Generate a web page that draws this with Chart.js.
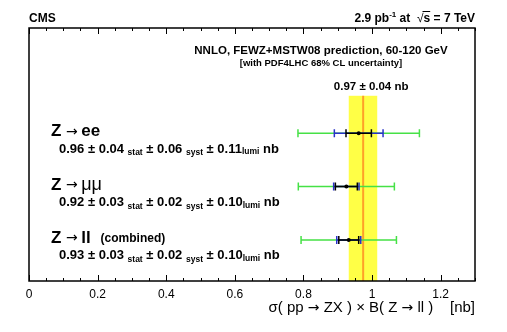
<!DOCTYPE html>
<html><head><meta charset="utf-8">
<script src="https://cdn.jsdelivr.net/npm/chart.js@4"></script>
<style>html,body{margin:0;padding:0;background:#fff}#wrap{width:507px;height:332px}</style>
</head><body><div id="wrap"><canvas id="c" width="507" height="332"></canvas></div>
<script>
// ---- data ----
const channelLabels = ['ee', 'μμ', 'll'];
const sigma   = [0.96, 0.92, 0.93];
const statErr = [0.04, 0.03, 0.03];
const systErr = [0.06, 0.02, 0.02];
const lumiErr = [0.11, 0.10, 0.10];
// positions
const centers     = [0.961, 0.925, 0.932];
const rowY        = [3, 2, 1];
const statBar     = [0.037, 0.032, 0.029];
const statSystBar = [0.071, 0.037, 0.035];
const totalBar    = [0.177, 0.140, 0.139];
const theoryValue = 0.974;
const theoryLo = 0.932, theoryHi = 1.015, theoryTop = 3.7;
const theoryLabel = '0.97 ± 0.04 nb';
const xTicks = [0, 0.2, 0.4, 0.6, 0.8, 1, 1.2];
const xTickLabels = ['0', '0.2', '0.4', '0.6', '0.8', '1', '1.2'];
const xMinorStep = 0.05;

const FF = '"Liberation Sans", Arial, Helvetica, sans-serif';
const FA = '"DejaVu Sans", sans-serif';
function f(size, bold) { return (bold ? 'bold ' : '') + size + 'px ' + FF; }
function fa(size) { return size + 'px ' + FA; }

function drawSegs(ctx, segs, x, y, align) {
  let total = 0;
  segs.forEach(s => { ctx.font = s.font; s.w = ctx.measureText(s.t).width; total += s.w; });
  let cx = align === 'right' ? x - total : (align === 'center' ? x - total / 2 : x);
  ctx.textAlign = 'left'; ctx.textBaseline = 'alphabetic'; ctx.fillStyle = '#000';
  segs.forEach(s => {
    ctx.font = s.font;
    ctx.fillText(s.t, cx, y + (s.dy || 0));
    if (s.over) {
      ctx.strokeStyle = '#000'; ctx.lineWidth = 1;
      ctx.beginPath(); ctx.moveTo(cx - 1, y - 10.5); ctx.lineTo(cx + s.w, y - 10.5); ctx.stroke();
    }
    cx += s.w;
  });
}

function hbar(ctx, x1, x2, y, color, lw, capH) {
  ctx.strokeStyle = color; ctx.lineWidth = lw;
  ctx.beginPath();
  ctx.moveTo(x1, y); ctx.lineTo(x2, y);
  ctx.moveTo(x1, y - capH / 2); ctx.lineTo(x1, y + capH / 2);
  ctx.moveTo(x2, y - capH / 2); ctx.lineTo(x2, y + capH / 2);
  ctx.stroke();
}

const cmsPlugin = {
  id: 'cms',
  beforeDatasetsDraw(chart) {
    const { ctx, chartArea: a, scales: { x, y } } = chart;
    ctx.save();
    // theory band
    const bx1 = x.getPixelForValue(theoryLo), bx2 = x.getPixelForValue(theoryHi);
    const by = y.getPixelForValue(theoryTop);
    ctx.fillStyle = 'rgb(255,255,70)';
    ctx.fillRect(bx1, by, bx2 - bx1, a.bottom - by);
    ctx.strokeStyle = 'rgb(255,160,40)'; ctx.lineWidth = 2;
    const lx = x.getPixelForValue(theoryValue);
    ctx.beginPath(); ctx.moveTo(lx, by); ctx.lineTo(lx, a.bottom); ctx.stroke();
    ctx.font = f(11.5, true); ctx.fillStyle = '#000'; ctx.textAlign = 'center';
    ctx.textBaseline = 'alphabetic';
    ctx.fillText(theoryLabel, lx + 8, by - 6);
    // error bars
    centers.forEach((c, i) => {
      const py = y.getPixelForValue(rowY[i]);
      hbar(ctx, x.getPixelForValue(c - totalBar[i]), x.getPixelForValue(c + totalBar[i]), py, 'rgb(70,225,70)', 1.5, 8);
      hbar(ctx, x.getPixelForValue(c - statSystBar[i]), x.getPixelForValue(c + statSystBar[i]), py, 'rgb(40,50,200)', 1.5, 8);
      hbar(ctx, x.getPixelForValue(c - statBar[i]), x.getPixelForValue(c + statBar[i]), py, '#000', 1.5, 8);
    });
    ctx.restore();
  },
  afterDraw(chart) {
    const { ctx, chartArea: a, scales: { x, y } } = chart;
    ctx.save();
    // frame
    ctx.strokeStyle = '#000'; ctx.lineWidth = 1.5;
    ctx.strokeRect(a.left, a.top, a.right - a.left, a.bottom - a.top);
    // ticks on bottom and top
    ctx.lineWidth = 1;
    ctx.beginPath();
    for (let v = 0; v <= 1.3 + 1e-9; v += xMinorStep) {
      const isMajor = xTicks.some(t => Math.abs(t - v) < 1e-6);
      const len = isMajor ? 6 : 3;
      const px = Math.round(x.getPixelForValue(v)) + 0.5;
      ctx.moveTo(px, a.bottom); ctx.lineTo(px, a.bottom - len);
      ctx.moveTo(px, a.top); ctx.lineTo(px, a.top + len);
    }
    ctx.stroke();
    // x axis title
    drawSegs(ctx, [
      { t: 'σ( pp ', font: f(15, false) },
      { t: '→', font: fa(14), dy: 0 },
      { t: ' ZX ) × B( Z ', font: f(15, false) },
      { t: '→', font: fa(14), dy: 0 },
      { t: ' ll )    [nb]', font: f(15, false) }
    ], a.right, a.bottom + 31, 'right');
    // header texts
    drawSegs(ctx, [{ t: 'CMS', font: f(12, true) }], a.left, 22, 'left');
    drawSegs(ctx, [
      { t: '2.9 pb', font: f(12, true) },
      { t: '-1', font: f(8, true), dy: -5 },
      { t: ' at  ', font: f(12, true) },
      { t: '√', font: f(12, false) },
      { t: 's', font: f(12, true), over: true },
      { t: ' = 7 TeV', font: f(12, true) }
    ], a.right, 22, 'right');
    drawSegs(ctx, [{ t: 'NNLO, FEWZ+MSTW08 prediction, 60-120 GeV', font: f(11.5, true) }], 321, 54, 'center');
    drawSegs(ctx, [{ t: '[with PDF4LHC 68% CL uncertainty]', font: f(9.5, true) }], 321, 66, 'center');
    // row labels
    centers.forEach((c, i) => {
      const py = y.getPixelForValue(rowY[i]);
      const title = [
        { t: 'Z ', font: f(17, true) },
        { t: '→', font: fa(14), dy: -0.5 },
        { t: ' ', font: f(12, true) },
        { t: channelLabels[i], font: i === 1 ? f(18, false) : f(17, true) }
      ];
      if (i === 2) title.push({ t: '   (combined)', font: f(12, true), dy: -1 });
      drawSegs(ctx, title, 51, py + 3, 'left');
      const vals = [
        { t: sigma[i].toFixed(2) + ' ± ' + statErr[i].toFixed(2) + ' ', font: f(13, true) },
        { t: 'stat', font: f(8.5, true), dy: 2.5 },
        { t: ' ± ' + systErr[i].toFixed(2) + ' ', font: f(13, true) },
        { t: 'syst', font: f(8.5, true), dy: 2.5 },
        { t: ' ± ' + lumiErr[i].toFixed(2), font: f(13, true) },
        { t: 'lumi', font: f(8.5, true), dy: 1.5 },
        { t: ' nb', font: f(13, true) }
      ];
      drawSegs(ctx, vals, 59, py + 19.5, 'left');
    });
    ctx.restore();
  }
};

new Chart(document.getElementById('c').getContext('2d'), {
  type: 'scatter',
  data: {
    datasets: [{
      data: centers.map((c, i) => ({ x: c, y: rowY[i] })),
      backgroundColor: '#000', borderColor: '#000',
      pointRadius: 2, pointHoverRadius: 2, borderWidth: 0
    }]
  },
  options: {
    responsive: false, animation: false, devicePixelRatio: 1,
    layout: { padding: { left: 29, right: 32, top: 28, bottom: 31 } },
    plugins: { legend: { display: false }, tooltip: { enabled: false } },
    scales: {
      x: {
        type: 'linear', min: 0, max: 1.3,
        afterBuildTicks: ax => { ax.ticks = xTicks.map(v => ({ value: v })); },
        afterFit: ax => { ax.height = 20; },
        ticks: {
          callback: (v, i) => xTickLabels[i],
          font: { family: FF, size: 12 }, color: '#000', padding: 6,
          maxRotation: 0, autoSkip: false
        },
        grid: { display: false, drawTicks: false },
        border: { display: false },
        title: { display: false }
      },
      y: { type: 'linear', min: 0.23, max: 4.97, display: false }
    }
  },
  plugins: [cmsPlugin]
});
</script>
</body></html>
